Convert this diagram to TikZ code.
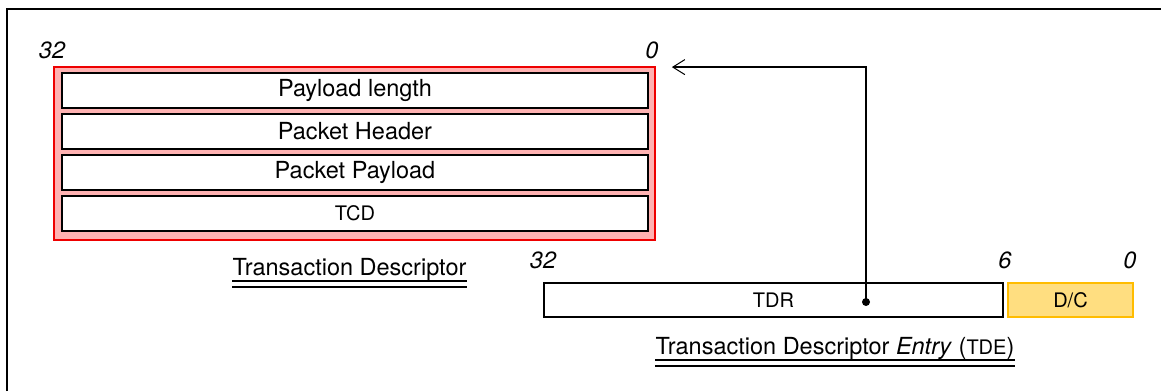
\documentclass[tikz,border=0pt]{standalone}
\usepackage{fontspec}
\setmainfont{TeX Gyre Heros}
\usetikzlibrary{arrows.meta,calc}

\definecolor{shellpink}{RGB}{255,178,178}
\definecolor{shellred}{RGB}{238,0,0}
\definecolor{dcfill}{RGB}{255,222,128}
\definecolor{dcedge}{RGB}{255,188,0}

\newcommand{\bigtxt}{\fontsize{23.5pt}{28pt}\selectfont}
\newcommand{\smalltxt}{\fontsize{20pt}{24pt}\selectfont}

\begin{document}
\begin{tikzpicture}[x=1pt,y=-1pt,
  frameline/.style={line width=1.4pt},
  shell/.style={draw=shellred,fill=shellpink,line width=1.8pt,
    minimum width=601pt,minimum height=173pt,inner sep=0pt},
  field/.style={draw=black,fill=white,line width=2.2pt,
    minimum width=586pt,minimum height=35pt,inner sep=0pt,font=\bigtxt},
  regbox/.style={draw=black,fill=white,line width=2pt,
    minimum width=459pt,minimum height=34pt,inner sep=0pt,font=\smalltxt},
  dcbox/.style={draw=dcedge,fill=dcfill,line width=2pt,
    minimum width=125pt,minimum height=34pt,inner sep=0pt,font=\smalltxt},
  bitno/.style={inner sep=0pt,font=\bigtxt\itshape},
  caption/.style={inner sep=0pt,font=\bigtxt,anchor=base},
  uline/.style={line width=1.5pt},
  pointer/.style={line width=1.5pt,-{Straight Barb[length=12pt,width=15pt,line width=1pt]}}
]
\useasboundingbox (0,0) rectangle (1161,391);

% cropped outer frame
\draw[frameline] (7,391) -- (7,9) -- (1161,9);

% transaction descriptor
\node[shell] (td) at (354.5,153.5) {};
\node[field] (plen) at (355,90.5) {Payload length};
\node[field] (phdr) at (355,131.5) {Packet Header};
\node[field] (ppay) at (355,172.5) {Packet Payload};
\node[field,font=\smalltxt] (tcd) at (355,213.5) {TCD};

\node[bitno] (tdhi) at (52,50) {32};
\node[bitno] (tdlo) at (652,50) {0};

\node[caption] (tdcap) at (349.5,275) {Transaction Descriptor};
\draw[uline] ($(tdcap.base west)+(0,6)$) -- ($(tdcap.base east)+(0,6)$);
\draw[uline] ($(tdcap.base west)+(0,12)$) -- ($(tdcap.base east)+(0,12)$);

% transaction descriptor entry
\node[regbox] (tdr) at (773.5,300) {TDR};
\node[dcbox] (dc) at (1070.5,300) {D/C};

\node[bitno] (tdehi) at (543,260) {32};
\node[bitno] (tdemid) at (1005,260) {6};
\node[bitno] (tdelo) at (1130,260) {0};

\node[caption] (tdecap) at (835,354) {Transaction Descriptor \textit{Entry} ({\smalltxt TDE})};
\draw[uline] ($(tdecap.base west)+(0,6)$) -- ($(tdecap.base east)+(0,6)$);
\draw[uline] ($(tdecap.base west)+(0,12)$) -- ($(tdecap.base east)+(0,12)$);

% pointer from TDR back to the descriptor
\coordinate (ptr) at (866,302);
\coordinate (tip) at ($(td.north east)+(16,1)$);
\fill (ptr) circle (4pt);
\draw[pointer] (ptr) |- (tip);
\end{tikzpicture}
\end{document}
